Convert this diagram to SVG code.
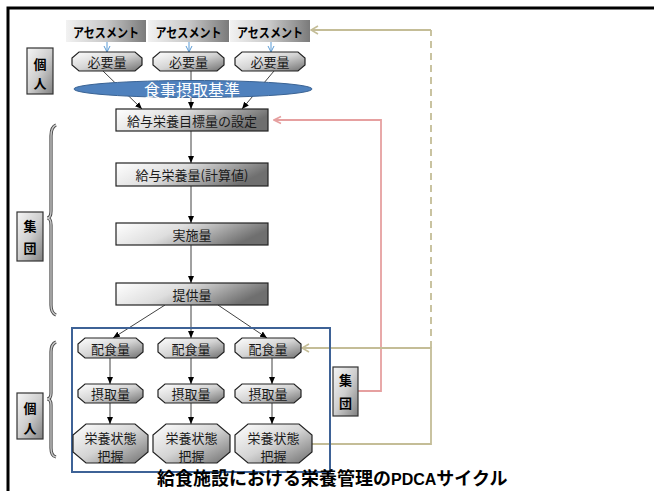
<svg xmlns="http://www.w3.org/2000/svg" width="654" height="491" viewBox="0 0 654 491">
<defs>
<linearGradient id="gBox" x1="0" y1="0" x2="1" y2="0.3">
<stop offset="0" stop-color="#ffffff"/><stop offset="0.45" stop-color="#dedede"/><stop offset="1" stop-color="#6f6f6f"/>
</linearGradient>
<linearGradient id="gOct" x1="0" y1="0" x2="1" y2="1">
<stop offset="0" stop-color="#ffffff"/><stop offset="0.5" stop-color="#d4d4d4"/><stop offset="1" stop-color="#707070"/>
</linearGradient>
<linearGradient id="gAs" x1="0" y1="0" x2="1" y2="0">
<stop offset="0" stop-color="#f2f2f2"/><stop offset="0.5" stop-color="#c8c8c8"/><stop offset="1" stop-color="#7a7a7a"/>
</linearGradient>
<linearGradient id="gLab" x1="0" y1="0" x2="1" y2="1">
<stop offset="0" stop-color="#f5f5f5"/><stop offset="0.5" stop-color="#cfcfcf"/><stop offset="1" stop-color="#808080"/>
</linearGradient>
<marker id="aBlk" markerUnits="userSpaceOnUse" markerWidth="7" markerHeight="7" refX="7" refY="3.5" orient="auto">
<path d="M0,0.5 L7,3.5 L0,6.5 z" fill="#000"/>
</marker>
<marker id="aBlue" markerUnits="userSpaceOnUse" markerWidth="8" markerHeight="8" refX="7" refY="4" orient="auto">
<path d="M1,1 L7,4 L1,7" fill="none" stroke="#5B9BD5" stroke-width="1"/>
</marker>
<marker id="aTan" markerUnits="userSpaceOnUse" markerWidth="10" markerHeight="10" refX="8.5" refY="5" orient="auto">
<path d="M1.5,1 L8.5,5 L1.5,9" fill="none" stroke="#C4BD97" stroke-width="1.6"/>
</marker>
<marker id="aPink" markerUnits="userSpaceOnUse" markerWidth="10" markerHeight="10" refX="8.5" refY="5" orient="auto">
<path d="M1.5,1.5 L8.5,5 L1.5,8.5" fill="none" stroke="#E6A0A0" stroke-width="1.6"/>
</marker>
</defs>
<style>
.t{font-family:"Noto Sans CJK JP","Noto Sans",sans-serif;font-size:13px;fill:#1a1a1a;text-anchor:middle;dominant-baseline:central}
.b{font-weight:bold;fill:#000}
.box{fill:url(#gBox);stroke:#222;stroke-width:1.2}
.oct{fill:url(#gOct);stroke:#222;stroke-width:1.2}
.as{fill:url(#gAs)}
.lab{fill:url(#gLab);stroke:#333;stroke-width:1.2}
.arr{stroke:#111;stroke-width:0.8;fill:none;marker-end:url(#aBlk)}
.blue{stroke:#5B9BD5;stroke-width:1;fill:none;marker-end:url(#aBlue)}
.tan{stroke:#C4BD97;stroke-width:1.8;fill:none}
.pink{stroke:#E6A0A0;stroke-width:1.8;fill:none}
.br1{stroke:#444;stroke-width:3.2;fill:none}
.br2{stroke:#c8c8c8;stroke-width:1.4;fill:none}
</style>

<rect x="8" y="8" width="700" height="600" fill="none" stroke="#000" stroke-width="3"/>

<!-- connectors (behind) -->
<g id="connectors">
<line class="blue" x1="107" y1="42" x2="107" y2="52"/>
<line class="blue" x1="189" y1="42" x2="189" y2="52"/>
<line class="blue" x1="271" y1="42" x2="271" y2="52"/>
<line class="arr" x1="103" y1="71" x2="142" y2="109"/>
<line class="arr" x1="191" y1="71" x2="191" y2="109"/>
<line class="arr" x1="274" y1="71" x2="242" y2="109"/>
<line class="arr" x1="191" y1="131" x2="191" y2="163"/>
<line class="arr" x1="191" y1="186" x2="191" y2="223"/>
<line class="arr" x1="191" y1="245" x2="191" y2="283"/>
<line class="arr" x1="165" y1="305" x2="113" y2="338"/>
<line class="arr" x1="191" y1="305" x2="191" y2="338"/>
<line class="arr" x1="218" y1="305" x2="267" y2="338"/>
<line class="arr" x1="110" y1="358" x2="110" y2="384"/>
<line class="arr" x1="191" y1="358" x2="191" y2="384"/>
<line class="arr" x1="272" y1="358" x2="272" y2="384"/>
<line class="arr" x1="110" y1="403" x2="110" y2="424"/>
<line class="arr" x1="191" y1="403" x2="191" y2="424"/>
<line class="arr" x1="272" y1="403" x2="272" y2="424"/>
<path class="pink" d="M358,391 H381 V120 H274" marker-end="url(#aPink)"/>
<path class="tan" d="M312,444 H431 V348 H302" marker-end="url(#aTan)"/>
<line class="tan" x1="431" y1="348" x2="431" y2="30" stroke-dasharray="7,5"/>
<line class="tan" x1="431" y1="30" x2="311" y2="30" marker-end="url(#aTan)"/>
</g>

<!-- group outline -->
<rect id="individualGroup" x="72" y="328" width="258" height="144" fill="none" stroke="#3E6296" stroke-width="2"/>

<!-- braces -->
<g id="braceGroup">
<path class="br1" d="M56,125 Q51,127 51,136 L51,211 Q51,218 47,218 Q51,218 51,225 L51,305 Q51,313 56,315"/>
<path class="br2" d="M56,125 Q51,127 51,136 L51,211 Q51,218 47,218 Q51,218 51,225 L51,305 Q51,313 56,315"/>
</g>
<g id="braceIndiv">
<path class="br1" d="M56,342 Q51,344 51,352 L51,393 Q51,399 47,399 Q51,399 51,405 L51,448 Q51,456 56,457"/>
<path class="br2" d="M56,342 Q51,344 51,352 L51,393 Q51,399 47,399 Q51,399 51,405 L51,448 Q51,456 56,457"/>
</g>

<!-- labels -->
<g id="labelIndivTop"><rect class="lab" x="27" y="48" width="26" height="46"/>
<text class="t b" x="40" y="63">個</text><text class="t b" x="40" y="82">人</text></g>
<g id="labelGroupLeft"><rect class="lab" x="17" y="212" width="26" height="49"/>
<text class="t b" x="30" y="225">集</text><text class="t b" x="30" y="247">団</text></g>
<g id="labelIndivBottom"><rect class="lab" x="17" y="393" width="26" height="46"/>
<text class="t b" x="30" y="407">個</text><text class="t b" x="30" y="427">人</text></g>
<g id="labelGroupRight"><rect class="lab" x="333" y="367" width="25" height="49"/>
<text class="t b" x="345.5" y="379">集</text><text class="t b" x="345.5" y="402">団</text></g>

<!-- assessments -->
<g id="as1"><rect class="as" x="66" y="20" width="80" height="22"/><text class="t b" x="106" y="31" textLength="66" lengthAdjust="spacingAndGlyphs">アセスメント</text></g>
<g id="as2"><rect class="as" x="148" y="20" width="81" height="22"/><text class="t b" x="188.5" y="31" textLength="66" lengthAdjust="spacingAndGlyphs">アセスメント</text></g>
<g id="as3"><rect class="as" x="230" y="20" width="80" height="22"/><text class="t b" x="270" y="31" textLength="66" lengthAdjust="spacingAndGlyphs">アセスメント</text></g>

<!-- 必要量 -->
<g id="req1"><path class="oct" d="M79,52 H135 L142,58 V65 L135,71 H79 L72,65 V58 Z"/><text class="t" x="107" y="61.5">必要量</text></g>
<g id="req2"><path class="oct" d="M160,52 H217 L224,58 V65 L217,71 H160 L153,65 V58 Z"/><text class="t" x="188.5" y="61.5">必要量</text></g>
<g id="req3"><path class="oct" d="M242,52 H298 L305,58 V65 L298,71 H242 L235,65 V58 Z"/><text class="t" x="270" y="61.5">必要量</text></g>

<!-- ellipse -->
<g id="dri"><ellipse cx="193" cy="89" rx="119" ry="8.5" fill="#4F81BD" stroke="#3A6394" stroke-width="1"/>
<text class="t" x="192" y="88.5" style="fill:#fff;font-size:16px">食事摂取基準</text></g>

<!-- main flow -->
<g id="target"><rect class="box" x="116" y="109" width="152" height="22"/><text class="t" x="192" y="120">給与栄養目標量の設定</text></g>
<g id="calc"><rect class="box" x="116" y="163" width="152" height="23"/><text class="t" x="192" y="174.5">給与栄養量(計算値)</text></g>
<g id="impl"><rect class="box" x="116" y="223" width="152" height="22"/><text class="t" x="192" y="234">実施量</text></g>
<g id="serve"><rect class="box" x="116" y="283" width="152" height="22"/><text class="t" x="192" y="294">提供量</text></g>

<!-- 配食量 -->
<g id="dist1"><path class="oct" d="M85,338 H136 L143,344 V352 L136,358 H85 L78,352 V344 Z"/><text class="t" x="110.5" y="348">配食量</text></g>
<g id="dist2"><path class="oct" d="M165,338 H217 L224,344 V352 L217,358 H165 L158,352 V344 Z"/><text class="t" x="191" y="348">配食量</text></g>
<g id="dist3"><path class="oct" d="M242,338 H294 L301,344 V352 L294,358 H242 L235,352 V344 Z"/><text class="t" x="268" y="348">配食量</text></g>

<!-- 摂取量 -->
<g id="intake1"><path class="oct" d="M85,384 H136 L143,390 V397 L136,403 H85 L78,397 V390 Z"/><text class="t" x="110.5" y="393.5">摂取量</text></g>
<g id="intake2"><path class="oct" d="M165,384 H217 L224,390 V397 L217,403 H165 L158,397 V390 Z"/><text class="t" x="191" y="393.5">摂取量</text></g>
<g id="intake3"><path class="oct" d="M242,384 H294 L301,390 V397 L294,403 H242 L235,397 V390 Z"/><text class="t" x="268" y="393.5">摂取量</text></g>

<!-- 栄養状態把握 -->
<g id="status1"><path class="oct" d="M86,424 H135 L148,435 V452 L135,463 H86 L73,452 V435 Z"/><text class="t" x="110.5" y="437">栄養状態</text><text class="t" x="110.5" y="455">把握</text></g>
<g id="status2"><path class="oct" d="M166,424 H217 L230,435 V452 L217,463 H166 L153,452 V435 Z"/><text class="t" x="191.5" y="437">栄養状態</text><text class="t" x="191.5" y="455">把握</text></g>
<g id="status3"><path class="oct" d="M248,424 H299 L312,435 V452 L299,463 H248 L235,452 V435 Z"/><text class="t" x="273.5" y="437">栄養状態</text><text class="t" x="273.5" y="455">把握</text></g>

<!-- title -->
<text x="157" y="485" style="font-family:'Noto Sans CJK JP','Noto Sans',sans-serif;font-size:18px;font-weight:bold;fill:#000">給食施設における栄養管理の<tspan style="font-family:'Liberation Sans',sans-serif;font-size:16px">PDCA</tspan>サイクル</text>
</svg>
